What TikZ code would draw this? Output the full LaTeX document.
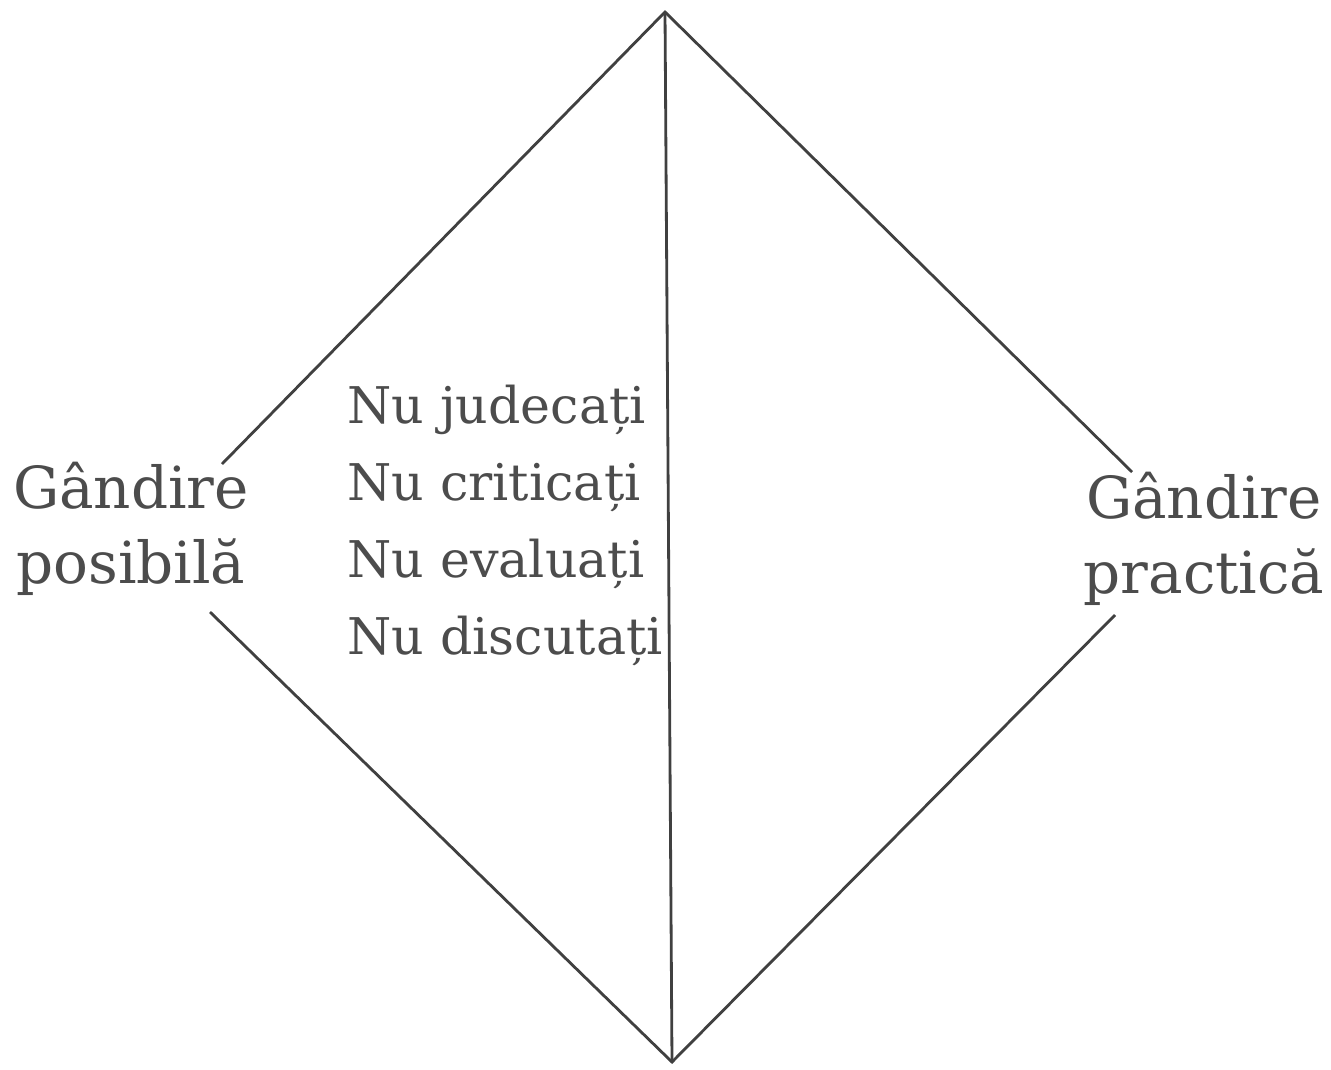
\documentclass[tikz,border=0pt]{standalone}
\usepackage{fontspec}
\setmainfont{DejaVu Serif}
\usetikzlibrary{positioning}

\begin{document}
\begin{tikzpicture}[
  x=0.02cm, y=-0.02cm,
  diag/.style={draw=black!75, line width=1.6pt},
  sidetext/.style={align=center, inner sep=0pt, text=black!70, font=\fontsize{33}{42.5}\selectfont},
  listtext/.style={align=left, inner sep=0pt, text=black!70, font=\fontsize{28.8}{43.7}\selectfont}
]
\useasboundingbox (0,0) rectangle (1331,1069);

% corners of the diamond
\coordinate (top) at (665,12);
\coordinate (bottom) at (672,1062);

% side labels and the list of rules
\node[sidetext, anchor=north] (possible) at (131,462) {Gândire\\posibilă};
\node[sidetext, anchor=north] (practical) at (1204,472) {Gândire\\practică};
\node[listtext, anchor=north west] (rules) at (347,385) {Nu judecați\\Nu criticați\\Nu evaluați\\Nu discutați};

% where the sides stop at the labels
\coordinate (leftup) at (222,464);
\coordinate (leftdown) at (210,612);
\coordinate (rightup) at (1132,472);
\coordinate (rightdown) at (1115,615);

\draw[diag] (top) -- (bottom);
\draw[diag] (leftup) -- (top) -- (rightup);
\draw[diag] (leftdown) -- (bottom) -- (rightdown);
\end{tikzpicture}
\end{document}
